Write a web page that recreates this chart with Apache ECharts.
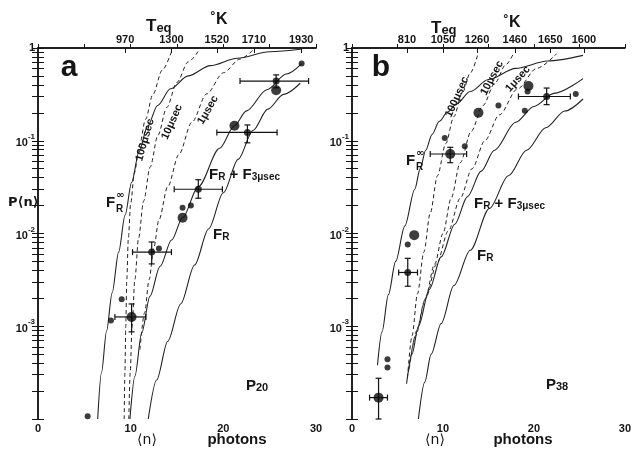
<!DOCTYPE html>
<html>
<head>
<meta charset="utf-8">
<script src="https://cdn.jsdelivr.net/npm/echarts@6/dist/echarts.min.js"></script>
<style>
  html, body { margin: 0; padding: 0; background: #fff; }
  #chart { width: 634px; height: 452px; }
</style>
</head>
<body>
<div id="chart"></div>
<script>
(function () {

    // ---- panel a (P20) : [<n>, P] ----
    var aFRinf = [[6.44, 1.0e-4], [6.85, 3.16e-4], [7.4, 8.9e-4], [8.0, 2.29e-3], [8.7, 6.3e-3], [9.4, 1.58e-2],
        [10.1, 3.55e-2], [10.9, 7.6e-2], [11.8, 0.141], [12.9, 0.24], [14.3, 0.363], [16.2, 0.50],
        [18.6, 0.646], [21.5, 0.776], [25.0, 0.912], [28.5, 0.977]];
    var aFR3 = [[9.92, 1.0e-4], [10.46, 2.9e-4], [11.19, 8.5e-4], [12.08, 2.1e-3], [13.16, 4.4e-3], [14.42, 8.5e-3],
        [15.6, 1.48e-2], [17.3, 3.2e-2], [19.6, 8.3e-2], [21.2, 0.145], [22.5, 0.21], [24.7, 0.355],
        [26.8, 0.525], [28.45, 0.68]];
    var aFR = [[11.9, 1.0e-4], [12.8, 2.63e-4], [14.0, 6.9e-4], [15.4, 1.74e-3], [16.9, 4.57e-3], [18.4, 1.12e-2],
        [20.0, 2.75e-2], [21.6, 6.3e-2], [23.2, 0.129], [24.8, 0.219], [26.5, 0.316], [28.3, 0.417]];
    var a100 = [[9.3, 1.0e-4], [9.38, 3.16e-4], [9.47, 1.0e-3], [9.58, 3.16e-3], [9.75, 8.9e-3], [10.0, 2.1e-2],
        [10.4, 4.5e-2], [10.95, 8.9e-2], [11.6, 0.17], [12.4, 0.316], [13.4, 0.575], [14.4, 0.912]];
    var a10 = [[9.8, 1.0e-4], [9.95, 3.16e-4], [10.15, 1.0e-3], [10.45, 3.16e-3], [10.85, 8.9e-3], [11.4, 2.24e-2],
        [12.1, 5.2e-2], [12.95, 0.115], [13.9, 0.229], [15.0, 0.427], [16.2, 0.708], [17.4, 0.955]];
    var a1 = [[11.0, 5.6e-4], [11.5, 1.4e-3], [12.0, 3.2e-3], [12.5, 7.1e-3], [13.05, 1.4e-2], [14.0, 3.2e-2],
        [15.2, 7.1e-2], [16.6, 0.158], [18.2, 0.32], [20.0, 0.54], [21.8, 0.76], [23.2, 0.95]];

    var aDots = [[28.45, 0.68], [16.5, 0.020], [15.6, 0.019], [13.05, 0.0069], [9.03, 0.00195], [7.87, 0.00115], [5.36, 1.07e-4]];
    var aBig = [[25.7, 0.35], [21.2, 0.145], [15.6, 0.0148]];
    // [n, P, nLow, nHigh, PLow, PHigh]
    var aErr = [[25.7, 0.44, 21.8, 29.2, 0.372, 0.513], [22.6, 0.123, 19.3, 25.8, 0.095, 0.148],
        [17.3, 0.030, 14.7, 19.9, 0.024, 0.038], [12.27, 0.0063, 10.2, 14.4, 0.0047, 0.0081]];
    var aErrBig = [[10.1, 0.00126, 8.3, 11.65, 0.00087, 0.00174]];

    // ---- panel b (P38) ----
    var bFRinf = [[2.8, 3.8e-4], [3.3, 8.7e-4], [4.0, 2.19e-3], [4.8, 5.0e-3], [5.8, 1.2e-2], [6.9, 3.0e-2],
        [7.5, 5.0e-2], [8.1, 7.9e-2], [8.8, 0.117], [9.6, 0.162], [10.5, 0.204], [11.5, 0.251],
        [13.0, 0.339], [15.0, 0.457], [18.0, 0.603], [21.5, 0.724], [25.4, 0.832]];
    var bFR3 = [[6.0, 2.4e-4], [6.6, 5.0e-4], [7.3, 1.0e-3], [8.5, 2.5e-3], [9.8, 5.6e-3], [11.3, 1.26e-2],
        [12.7, 2.5e-2], [14.2, 4.7e-2], [15.65, 7.9e-2], [18.0, 0.158], [20.0, 0.234], [22.2, 0.324], [25.4, 0.468]];
    var bFR = [[7.3, 1.0e-4], [8.0, 2.5e-4], [8.7, 5.0e-4], [9.8, 1.07e-3], [11.2, 2.75e-3], [13.0, 6.6e-3],
        [15.1, 1.86e-2], [17.2, 4.2e-2], [19.2, 7.9e-2], [21.3, 0.138], [23.4, 0.209], [25.4, 0.282]];
    var b100 = [[6.1, 2.8e-4], [6.6, 7.9e-4], [7.2, 2.24e-3], [7.9, 6.3e-3], [8.6, 1.66e-2], [9.4, 4.2e-2],
        [10.3, 9.3e-2], [11.2, 0.182], [12.1, 0.324], [13.0, 0.537], [13.8, 0.83]];
    var b10 = [[6.2, 3.2e-4], [7.0, 7.9e-4], [8.0, 1.9e-3], [9.1, 4.7e-3], [10.0, 1.0e-2], [10.9, 2.4e-2],
        [11.9, 5.8e-2], [13.1, 0.126], [14.4, 0.24], [15.7, 0.417], [16.9, 0.66], [17.8, 0.89]];
    var b1 = [[6.3, 3.5e-4], [7.1, 8.9e-4], [8.1, 2.0e-3], [9.3, 4.7e-3], [10.6, 1.07e-2], [11.9, 2.4e-2],
        [13.2, 5.0e-2], [14.6, 0.10], [16.2, 0.19], [18.2, 0.363], [20.3, 0.603], [22.5, 0.87]];

    var bDots = [[10.2, 0.107], [12.4, 0.087], [16.1, 0.24], [19.0, 0.21], [24.6, 0.32], [19.3, 0.34],
        [6.13, 0.0076], [3.9, 4.4e-4], [3.9, 3.6e-4]];
    var bBig = [[13.9, 0.20], [19.4, 0.39], [6.84, 0.0096]];
    var bErr = [[21.4, 0.30, 18.3, 24.0, 0.245, 0.37], [6.13, 0.0038, 5.13, 7.2, 0.0027, 0.0054]];
    var bErrBig = [[10.8, 0.072, 8.6, 12.6, 0.058, 0.085], [2.92, 1.7e-4, 1.93, 3.9, 1.0e-4, 2.75e-4]];

    // ---- axis labels ----
    var teqPosA = [9.4, 14.4, 19.3, 23.3, 28.4];
    var teqLabA = ['970', '1300', '1520', '1710', '1930'];
    var teqPosB = [6.05, 10.0, 13.75, 17.9, 21.8, 25.5];
    var teqLabB = ['810', '1050', '1260', '1460', '1650', '1600'];
    var xLabVals = [0, 10, 20, 30];
    var yLabVals = [-3, -2, -1, 0];
    var yLabTxt = ['{b|10}{s|-3}', '{b|10}{s|-2}', '{b|10}{s|-1}', '1'];

    var FONT = "'Liberation Sans', 'DejaVu Sans', sans-serif";
    var INK = '#151515';

    var yTicks = [];
    for (var d = -4; d < 0; d++) {
        for (var k = 1; k < 10; k++) yTicks.push(d + Math.log10(k));
    }
    yTicks.push(0);

    function lg(p) { return Math.log10(p); }

    function bottomAxis(grid) {
        return {
            type: 'value', gridIndex: grid, min: 0, max: 30, interval: 5,
            axisLine: { lineStyle: { color: INK, width: 1.5 } },
            axisTick: { inside: true, length: 4, lineStyle: { color: INK } },
            axisLabel: {
                customValues: xLabVals, color: INK, fontFamily: FONT, fontWeight: 'bold', fontSize: 11, margin: 4
            },
            splitLine: { show: false }
        };
    }

    function topAxis(grid, pos, lab) {
        return {
            type: 'value', gridIndex: grid, position: 'top', min: 0, max: 30,
            axisLine: { lineStyle: { color: INK, width: 1.5 } },
            axisTick: { inside: true, length: 5, customValues: pos, lineStyle: { color: INK } },
            axisLabel: {
                customValues: pos, color: INK, fontFamily: FONT, fontWeight: 'bold', fontSize: 11, margin: 3,
                formatter: function (v) {
                    var i = pos.indexOf(v);
                    return i >= 0 ? lab[i] : '';
                }
            },
            splitLine: { show: false }
        };
    }

    function yAxisCfg(grid, side) {
        return {
            type: 'value', gridIndex: grid, position: side, min: -4, max: 0,
            axisLine: { show: true, lineStyle: { color: INK, width: 1.5 } },
            axisTick: { show: true, inside: true, length: 6, customValues: yTicks, lineStyle: { color: INK } },
            axisLabel: {
                show: side === 'left', customValues: yLabVals, margin: 3, color: INK,
                formatter: function (v) { return yLabTxt[yLabVals.indexOf(v)]; },
                rich: {
                    b: { fontFamily: FONT, fontWeight: 'bold', fontSize: 11, lineHeight: 16, verticalAlign: 'bottom', color: INK },
                    s: { fontFamily: FONT, fontWeight: 'bold', fontSize: 8, lineHeight: 9, verticalAlign: 'top', color: INK }
                },
                fontFamily: FONT, fontWeight: 'bold', fontSize: 11
            },
            splitLine: { show: false }
        };
    }

    function curve(pts, ax, dashed) {
        return {
            type: 'line', xAxisIndex: ax, yAxisIndex: ax, silent: true,
            data: pts.map(function (p) { return [p[0], lg(p[1])]; }),
            smooth: 0.3, smoothMonotone: 'x', showSymbol: false, symbol: 'none',
            lineStyle: { color: '#222', width: dashed ? 1 : 1.1, type: dashed ? [4, 3] : 'solid' },
            z: 2
        };
    }

    function dots(pts, ax, size) {
        return {
            type: 'scatter', xAxisIndex: ax, yAxisIndex: ax, silent: true,
            data: pts.map(function (p) { return [p[0], lg(p[1])]; }),
            symbolSize: size, itemStyle: { color: '#0b0b0b' }, z: 4
        };
    }

    function errRender(params, api) {
        var c = api.coord([api.value(0), api.value(1)]);
        var l = api.coord([api.value(2), api.value(1)]);
        var r = api.coord([api.value(3), api.value(1)]);
        var lo = api.coord([api.value(0), api.value(4)]);
        var hi = api.coord([api.value(0), api.value(5)]);
        var st = { stroke: '#111', lineWidth: 1.2 };
        function seg(x1, y1, x2, y2) {
            return { type: 'line', shape: { x1: x1, y1: y1, x2: x2, y2: y2 }, style: st };
        }
        return {
            type: 'group',
            children: [
                seg(l[0], c[1], r[0], c[1]),
                seg(l[0], c[1] - 3, l[0], c[1] + 3),
                seg(r[0], c[1] - 3, r[0], c[1] + 3),
                seg(c[0], lo[1], c[0], hi[1]),
                seg(c[0] - 3, lo[1], c[0] + 3, lo[1]),
                seg(c[0] - 3, hi[1], c[0] + 3, hi[1])
            ]
        };
    }

    function errBars(rows, ax) {
        return {
            type: 'custom', xAxisIndex: ax, yAxisIndex: ax, silent: true, renderItem: errRender,
            data: rows.map(function (e) { return [e[0], lg(e[1]), e[2], e[3], lg(e[4]), lg(e[5])]; }),
            encode: { x: [0, 2, 3], y: [1, 4, 5] }, z: 3
        };
    }

    // ---- annotation texts ----
    var sub = function (size) {
        return { fontFamily: FONT, fontWeight: 'bold', fontSize: size, lineHeight: size, verticalAlign: 'bottom', fill: INK };
    };
    var main = function (size) {
        return { fontFamily: FONT, fontWeight: 'bold', fontSize: size, lineHeight: size + 5, verticalAlign: 'bottom', fill: INK };
    };

    function txt(x, y, text, size, opt) {
        opt = opt || {};
        return {
            type: 'text', x: x, y: y, rotation: opt.rot ? opt.rot * Math.PI / 180 : 0, silent: true,
            style: {
                text: text, fill: INK, fontFamily: opt.family || FONT, fontWeight: opt.weight || 'bold',
                fontSize: size, align: opt.align || 'center', verticalAlign: 'middle', rich: opt.rich
            }
        };
    }

    function richTxt(x, y, text, big, small) {
        return txt(x, y, text, big, { align: 'left', rich: { m: main(big), s: sub(small), p: main(big) } });
    }

    function frInf(x, y) {
        return [
            txt(x, y, 'F', 15, { align: 'left' }),
            txt(x + 10, y - 8, '∞', 10, { align: 'left', family: "'DejaVu Sans', sans-serif" }),
            txt(x + 10, y + 6, 'R', 10, { align: 'left' })
        ];
    }

    var texts = [
        txt(69, 68, 'a', 30),
        richTxt(146, 24, '{m|T}{s|eq}', 17, 13),
        txt(219, 20, '˚K', 16),
        txt(8, 203, 'P⟨n⟩', 13, { align: 'left', family: "'DejaVu Sans', sans-serif" }),
        txt(145, 140, '100μsec', 11, { rot: 74 }),
        txt(172, 122, '10μsec', 11, { rot: 66 }),
        txt(208, 110, '1μsec', 11, { rot: 60 }),
        richTxt(209, 172, '{m|F}{s|R}{p| + F}{s|3μsec}', 15, 10),
        richTxt(213, 232, '{m|F}{s|R}', 15, 10),
        richTxt(246, 383, '{m|P}{s|20}', 15, 11),
        txt(147, 440, '⟨n⟩', 14, { family: "'DejaVu Sans', sans-serif", weight: 'normal' }),
        txt(237, 440, 'photons', 15),

        txt(381, 68, 'b', 30),
        richTxt(431, 26, '{m|T}{s|eq}', 17, 13),
        txt(512, 23, '˚K', 16),
        txt(457, 97, '100μsec', 11, { rot: 66 }),
        txt(492, 78, '10μsec', 11, { rot: 62 }),
        txt(518, 79, '1μsec', 11, { rot: 48 }),
        richTxt(474, 201, '{m|F}{s|R}{p| + F}{s|3μsec}', 15, 10),
        richTxt(477, 253, '{m|F}{s|R}', 15, 10),
        richTxt(546, 382, '{m|P}{s|38}', 15, 11),
        txt(435, 440, '⟨n⟩', 14, { family: "'DejaVu Sans', sans-serif", weight: 'normal' }),
        txt(523, 440, 'photons', 15)
    ].concat(frInf(106, 203), frInf(406, 161));

    var option = {
        animation: false,
        backgroundColor: '#fff',
        grid: [
            { left: 38, top: 48, width: 278, height: 371 },
            { left: 352, top: 48, width: 280, height: 371 }
        ],
        xAxis: [bottomAxis(0), topAxis(0, teqPosA, teqLabA), bottomAxis(1), topAxis(1, teqPosB, teqLabB)],
        yAxis: [yAxisCfg(0, 'left'), yAxisCfg(0, 'right'), yAxisCfg(1, 'left'), yAxisCfg(1, 'right')],
        graphic: texts,
        series: [
            curve(aFRinf, 0), curve(aFR3, 0), curve(aFR, 0),
            curve(a100, 0, true), curve(a10, 0, true), curve(a1, 0, true),
            errBars(aErr.concat(aErrBig), 0),
            dots(aDots, 0, 6), dots(aBig, 0, 10), dots(aErr, 0, 7), dots(aErrBig, 0, 10),

            curve(bFRinf, 2), curve(bFR3, 2), curve(bFR, 2),
            curve(b100, 2, true), curve(b10, 2, true), curve(b1, 2, true),
            errBars(bErr.concat(bErrBig), 2),
            dots(bDots, 2, 6), dots(bBig, 2, 10), dots(bErr, 2, 7), dots(bErrBig, 2, 10)
        ]
    };

    var myChart = echarts.init(document.getElementById('chart'));
    myChart.setOption(option);

})();
</script>
</body>
</html>
